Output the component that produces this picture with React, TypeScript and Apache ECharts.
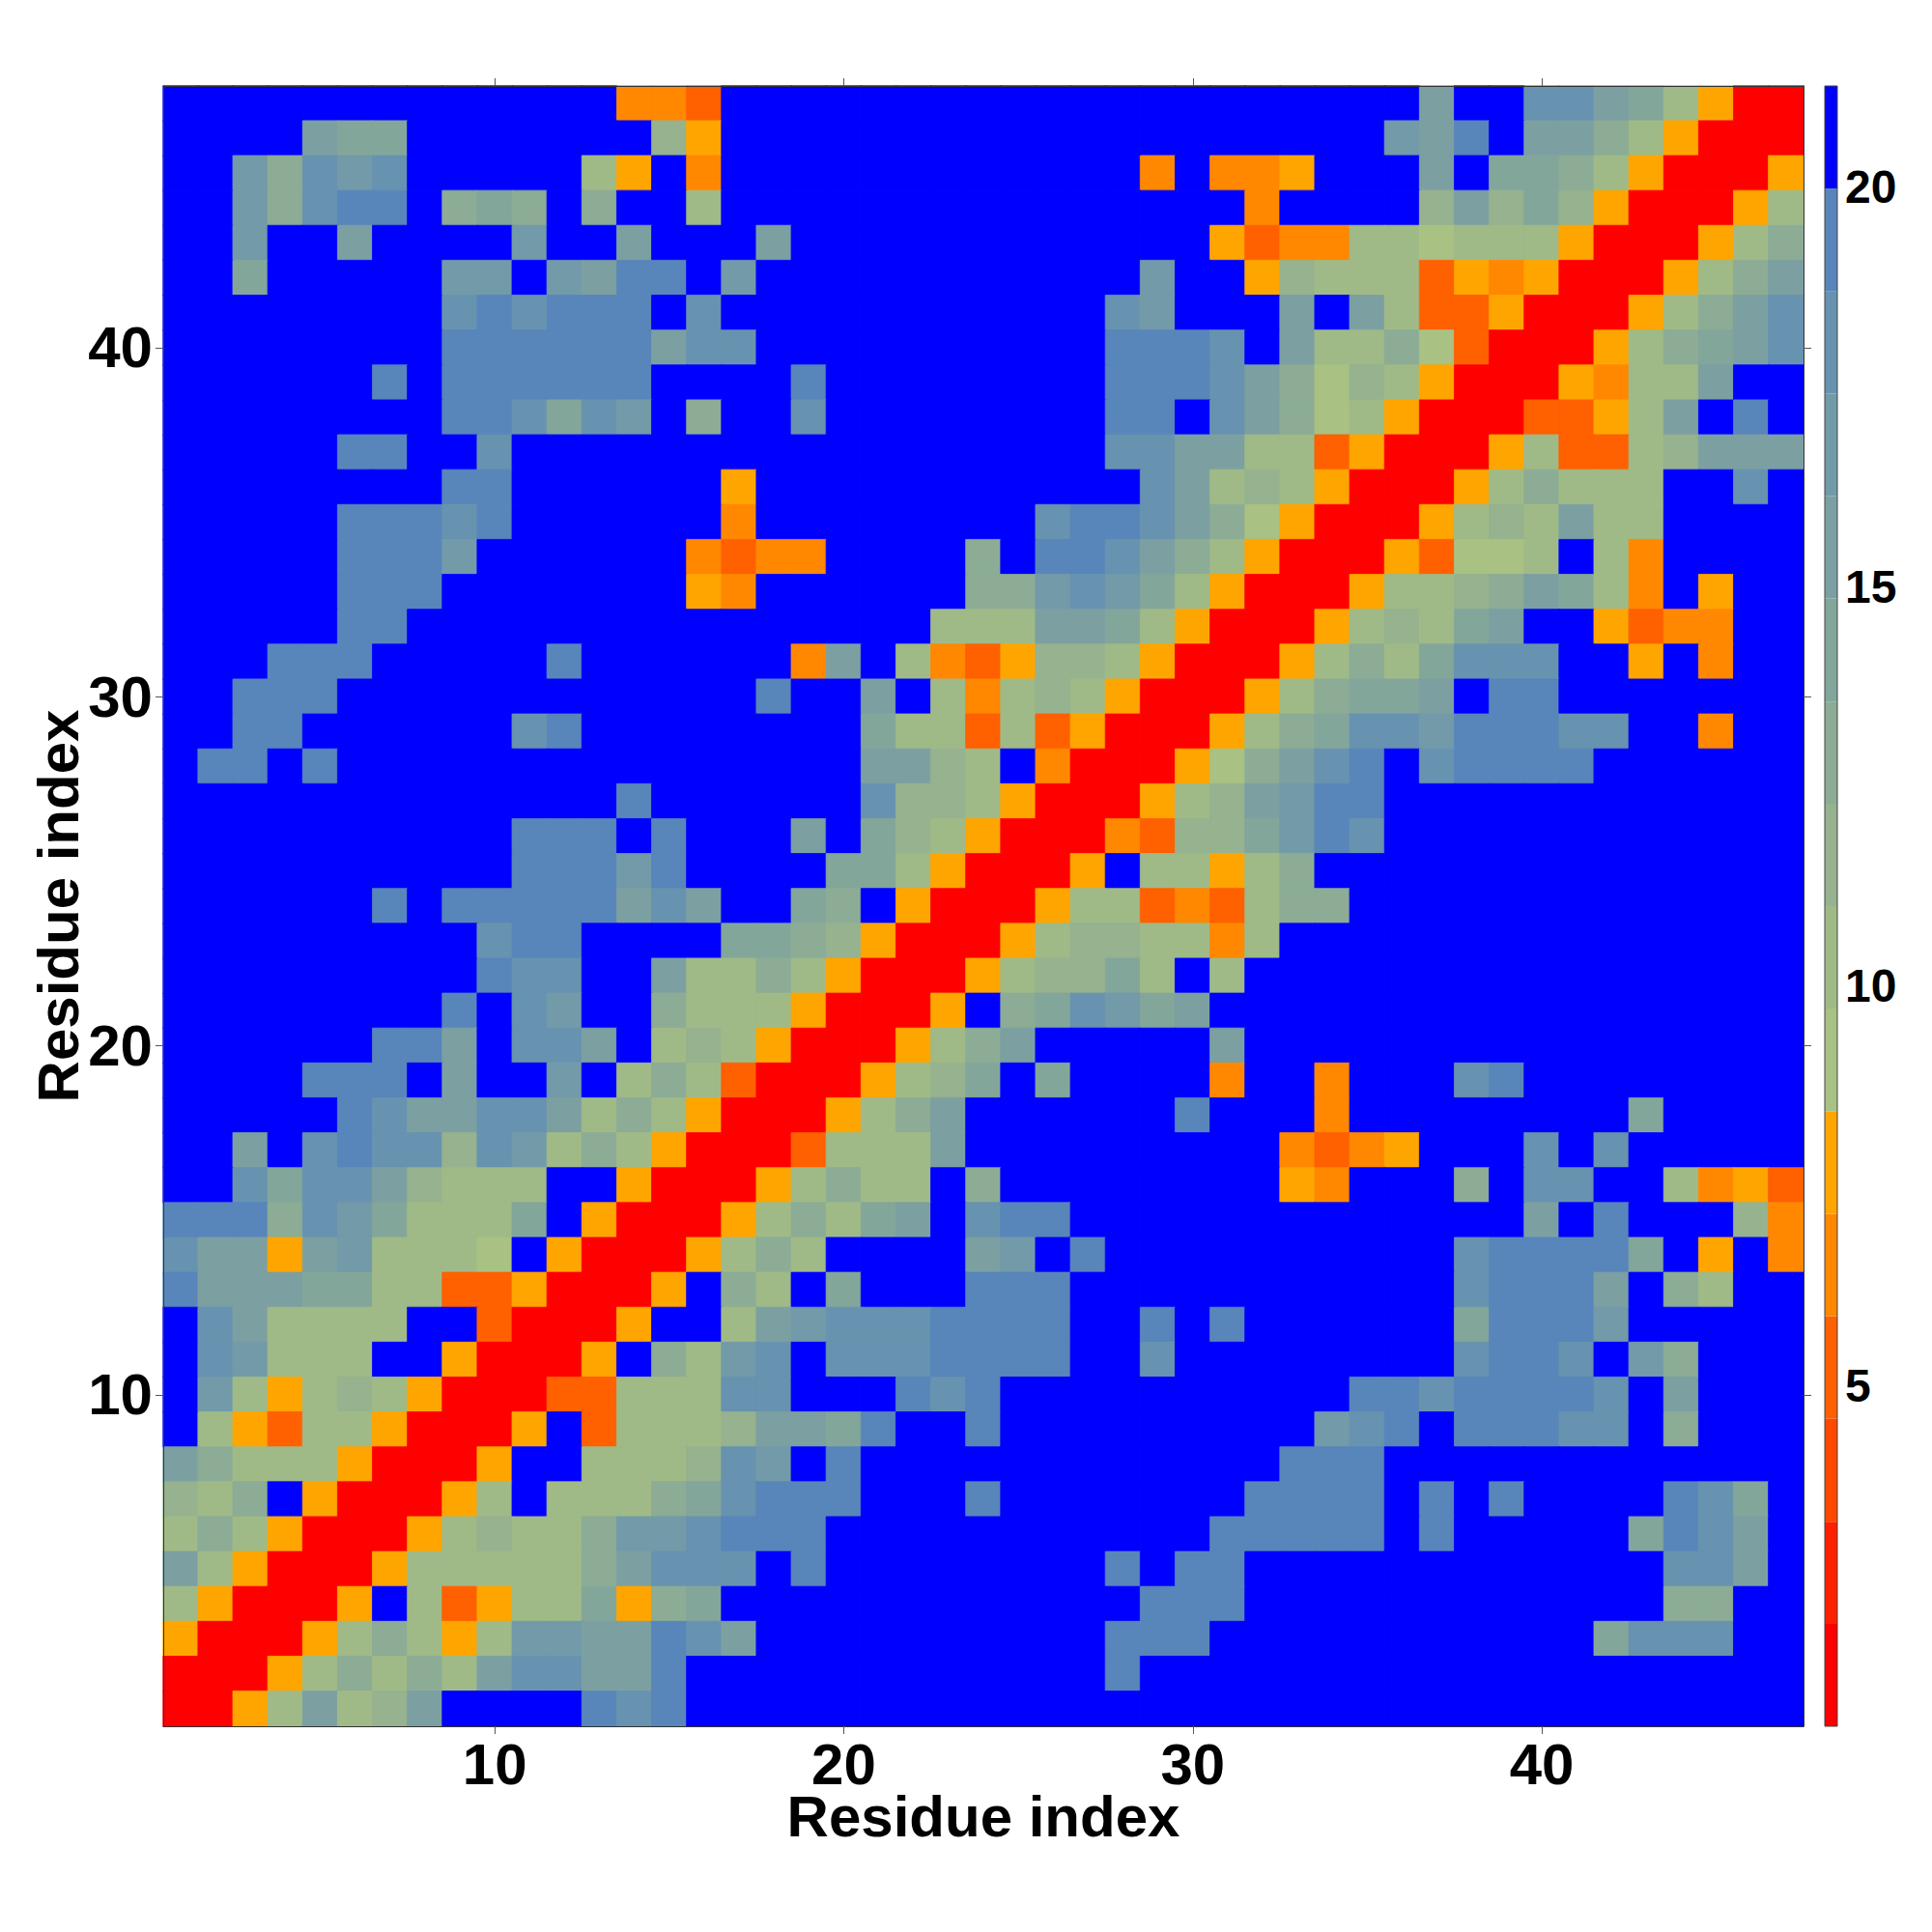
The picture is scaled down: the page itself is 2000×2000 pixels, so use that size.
import React, { useEffect, useRef } from "react";
import * as echarts from "echarts";

// Contact-distance bands (lowest to highest).
const bandEdges = [0.74, 2.02, 3.3, 4.59, 5.87, 7.15, 8.43, 9.72, 11.0, 12.28, 13.56, 14.85, 16.13, 17.41, 18.69, 19.98, 21.26];
const bandColors = ["#ff0000", "#ff2000", "#ff4800", "#ff6000", "#ff8800", "#ffa500", "#a9c183", "#a0ba87", "#96b28e", "#8cac96", "#83a69b", "#7ca0a2", "#729aa9", "#6793b0", "#5886ba", "#0000ff"];
const residues = Array.from({ length: 47 }, (_, i) => String(i + 1));
const colorbarTicks = [5, 10, 15, 20];
const residueTicks = [10, 20, 30, 40];

// One row per residue on the y axis, top (47) to bottom (1); one hex digit per cell = band index.
const bandRows = [
  "ffffffffff fff443ffff ffffffffff ffffffbffd dba7500",
  "ffffbaafff ffff85ffff ffffffffff fffffcbefb b975000",
  "ffc9dcdfff ff75f4ffff ffffffff4f 445fffbfaa 9750005",
  "ffc9deef9a 9f9ff7ffff ffffffffff f4ffff8b8a 8500057",
  "ffcffbffff cffbfffbff ffffffffff 5344776777 5000579",
  "ffafffffcc fcbeefcfff ffffffffcf f587773545 000579b",
  "ffffffffde deeefdffff fffffffdcf ffbfb73350 00579bd",
  "ffffffffee eeeebddfff fffffffeee dfb7796300 0579abd",
  "ffffffefee eeeeffffef fffffffeee db96875000 5477bff",
  "ffffffffee dadcf9ffdf fffffffeef db96750003 357bfef",
  "fffffeeffd ffffffffff fffffffddb b773500057 3378bbb",
  "ffffffffee ffffff5fff ffffffffdb 7875000579 777ffdf",
  "fffffeeede ffffff4fff fffffdeedb 9650005787 b77ffff",
  "fffffeeecf fffff4344f fff9feedb9 7500053667 f74ffff",
  "fffffeeeff fffff54fff fff99cdca7 500057789b a74f5ff",
  "fffffeefff ffffffffff ff777bba75 0005787abf f5344ff",
  "fffeeeffff feffffff4b f743588750 005797addd ff5f4ff",
  "ffeeefffff fffffffeff bf74787500 0579aabfee fffffff",
  "ffeeffffff deffffffff a773735000 579addceee ddff4ff",
  "feefefffff ffffffffff bb87f40005 69bdefdeee effffff",
  "ffffffffff fffeffffff d887500057 8bceefffff fffffff",
  "ffffffffff eeefefffbf a875000438 8acedfffff fffffff",
  "ffffffffff eeeceffffa a750005f77 579fffffff fffffff",
  "ffffffefee eeebdbffa9 f500057734 3799ffffff fffffff",
  "fffffffffd eeffffaa98 5000578877 47ffffffff fffffff",
  "fffffffffe ddffb77975 0005788a7f 7fffffffff fffffff",
  "ffffffffef dcff977750 005f9adcab ffffffffff fffffff",
  "ffffffeebf ddbf787500 0579bfffff bfffffffff fffffff",
  "ffffeeefbf fcf7973000 578afaffff 4ff4fffdef fffffff",
  "fffffedbbd db79750005 79bffffffe fff4ffffff ffaffff",
  "ffbfdedd8d c797500037 77bfffffff ff4345fffd fdfffff",
  "ffdaddb877 7ff5000579 77f9ffffff ff54fff9fd dff7453",
  "eee9dca777 af50005797 abfdeeffff fffffffffb fefff84",
  "dbb5bc7776 f50005797f fffbcfefff fffffffdee eeaf5f4",
  "ebbbaa7733 50005f97fa fffeeeffff fffffffdee ebf97ff",
  "fdb7777ff3 0005ff7bcd ddeeeeffef effffffaee ecfffff",
  "fdc777ff50 005f97cdfd ddeeeeffdf fffffffdee dfc9fff",
  "fc75787500 033777ddff fedeffffff ffffeedeee edfbfff",
  "f753775000 5f37778bba effeffffff fffcdefeee ddf9fff",
  "b977750005 ff7778dcfe ffffffffff ffeeefffff fffffff",
  "879f500057 f7779adeee fffeffffff feeeefefef fffedaf",
  "7975000578 779ccdeeef ffffffffff eeeeefefff ffaedbf",
  "b750005777 779bdddfef fffffffefe efffffffff fffddbf",
  "750005f735 77a59affff ffffffffee efffffffff fff99ff",
  "5000579757 ccbbedbfff fffffffeee ffffffffff fadddff",
  "000579797b ddbbefffff fffffffeff ffffffffff fffffff",
  "0057b78bff ffedefffff ffffffffff ffffffffff fffffff",
];

const FONT = "'Liberation Sans', Arial, sans-serif";
const bandMid = (b: number) => (bandEdges[b] + bandEdges[b + 1]) / 2;

const cells: any[] = [];
bandRows.forEach((row, r) => {
  row.replace(/ /g, "").split("").forEach((ch, c) => {
    const b = parseInt(ch, 16);
    cells.push({
      value: [c, 46 - r, bandMid(b)],
      itemStyle: { borderColor: bandColors[b], borderWidth: 0.8 },
    });
  });
});

const isResidueTick = (index: number) => residueTicks.includes(index + 1);

export default function App() {
  const ref = useRef<HTMLDivElement>(null);
  useEffect(() => {
    const chart = echarts.init(ref.current!, undefined, { renderer: "svg" });
    const tickStyle = { show: true, length: 8, alignWithLabel: true, interval: isResidueTick, lineStyle: { color: "#555", width: 1 } };
    const lineStyle = { show: true, onZero: false, lineStyle: { color: "#333", width: 1 } };
    const bigLabel = { fontFamily: FONT, fontWeight: "bold" as const, fontSize: 60, lineHeight: 46, color: "#000" };
    const nameStyle = { fontFamily: FONT, fontWeight: "bold" as const, fontSize: 60, lineHeight: 46, color: "#000" };
    const band = bandColors.map((color, i) => ({ low: bandEdges[i], high: bandEdges[i + 1], color }));
    chart.setOption({
      animation: false,
      backgroundColor: "#fff",
      grid: [
        { left: 169, top: 89, width: 1698, height: 1698, containLabel: false },
        { left: 1889, top: 89, width: 13, height: 1698, containLabel: false },
      ],
      xAxis: [
        {
          type: "category", gridIndex: 0, data: residues, position: "bottom",
          name: "Residue index", nameLocation: "middle", nameGap: 70, nameMoveOverlap: false, nameTextStyle: nameStyle,
          axisLine: lineStyle, axisTick: tickStyle,
          axisLabel: { ...bigLabel, interval: isResidueTick, margin: 16 },
          splitLine: { show: false }, z: 10,
        },
        {
          type: "category", gridIndex: 0, data: residues, position: "top",
          axisLine: lineStyle, axisTick: tickStyle, axisLabel: { show: false }, splitLine: { show: false }, z: 10,
        },
        { type: "value", gridIndex: 1, min: 0, max: 1, show: false },
      ],
      yAxis: [
        {
          type: "category", gridIndex: 0, data: residues, position: "left",
          name: "Residue index", nameLocation: "middle", nameGap: 86, nameMoveOverlap: false, nameRotate: 90, nameTextStyle: nameStyle,
          axisLine: lineStyle, axisTick: tickStyle,
          axisLabel: { ...bigLabel, interval: isResidueTick, margin: 11 },
          splitLine: { show: false }, z: 10,
        },
        {
          type: "category", gridIndex: 0, data: residues, position: "right",
          axisLine: lineStyle, axisTick: tickStyle, axisLabel: { show: false }, splitLine: { show: false }, z: 10,
        },
        {
          type: "value", gridIndex: 1, position: "right", min: bandEdges[0], max: bandEdges[16],
          axisLine: { show: false },
          axisTick: { show: true, length: 8, customValues: colorbarTicks, lineStyle: { color: "#444", width: 1 } },
          axisLabel: { fontFamily: FONT, fontWeight: "bold", fontSize: 48, color: "#000", margin: 8, customValues: colorbarTicks, formatter: (v: number) => String(v) },
          splitLine: { show: false },
        },
      ],
      visualMap: {
        show: false, type: "piecewise", seriesIndex: 0, dimension: 2,
        pieces: band.map((b) => ({ gte: b.low, lt: b.high, color: b.color })),
      },
      series: [
        {
          type: "heatmap", xAxisIndex: 0, yAxisIndex: 0, data: cells, progressive: 0,
          emphasis: { disabled: true },
        },
        {
          type: "custom", xAxisIndex: 2, yAxisIndex: 2, silent: true, clip: false,
          data: band.map((b) => [b.low, b.high]),
          encode: { y: [0, 1] },
          renderItem: (params: any, api: any) => {
            const a = api.coord([0, api.value(0)]);
            const b = api.coord([1, api.value(1)]);
            return {
              type: "rect",
              shape: { x: a[0], y: b[1], width: b[0] - a[0], height: a[1] - b[1] },
              style: { fill: band[params.dataIndex].color, stroke: "none" },
            };
          },
        },
        {
          type: "custom", xAxisIndex: 2, yAxisIndex: 2, silent: true, clip: false, z: 5,
          data: [[bandEdges[0], bandEdges[16]]],
          encode: { y: [0, 1] },
          renderItem: (_: any, api: any) => {
            const a = api.coord([0, api.value(0)]);
            const b = api.coord([1, api.value(1)]);
            return {
              type: "rect",
              shape: { x: a[0], y: b[1], width: b[0] - a[0], height: a[1] - b[1] },
              style: { fill: "none", stroke: "#444", lineWidth: 1 },
            };
          },
        },
      ],
    });
    return () => chart.dispose();
  }, []);
  return <div ref={ref} style={{ position: "absolute", left: 0, top: 0, width: 2000, height: 2000, background: "#fff" }} />;
}
